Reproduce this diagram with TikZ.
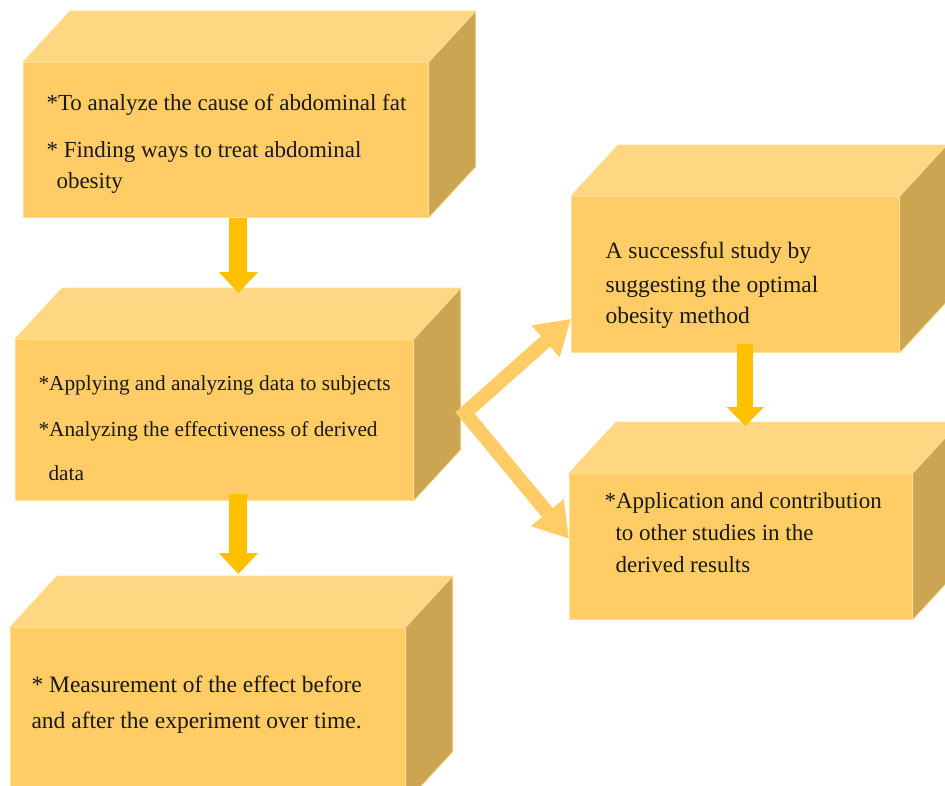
\documentclass[tikz,border=0pt]{standalone}
\usepackage{fontspec}
\setmainfont{Liberation Serif}
\usetikzlibrary{arrows.meta,calc}

\definecolor{boxfront}{RGB}{255,204,102}
\definecolor{boxtop}{RGB}{255,214,130}
\definecolor{boxside}{RGB}{204,165,82}
\definecolor{boxedge}{RGB}{255,222,150}
\definecolor{flowgold}{RGB}{255,192,0}

\tikzset{
  front/.style={fill=boxfront,draw=boxedge,line width=0.8pt,anchor=north west,inner sep=0pt},
  topface/.style={fill=boxtop,draw=boxedge,line width=0.8pt},
  sideface/.style={fill=boxside,draw=boxedge,line width=0.8pt},
  boxtext/.style={anchor=base west,align=left,text=black!90,font=\fontsize{#1}{31}\selectfont},
  boxtext/.default=22,
  vflow/.style={draw=flowgold,line width=18pt,-{Triangle[width=38pt,length=21pt]}},
  dflow/.style={draw=boxfront,line width=14pt,line join=miter,
    {Triangle[width=40pt,length=34pt]}-{Triangle[width=40pt,length=34pt]}}
}

% top and right faces of a box, from its front node
\newcommand{\cubesides}[1]{%
  \draw[topface] (#1.north west) -- ++(47,-51) -- ($(#1.north east)+(47,-51)$) -- (#1.north east) -- cycle;
  \draw[sideface] (#1.north east) -- ++(47,-51) -- ($(#1.south east)+(47,-51)$) -- (#1.south east) -- cycle;
}

\begin{document}
\begin{tikzpicture}[x=1pt,y=-1pt]
  \clip (0,0) rectangle (945,785);

  % boxes
  \node[front,minimum width=405pt,minimum height=155pt] (b1) at (23,62) {};
  \cubesides{b1}
  \node[front,minimum width=398pt,minimum height=161pt] (b2) at (15,339) {};
  \cubesides{b2}
  \node[front,minimum width=395pt,minimum height=175pt] (b3) at (10,627) {};
  \cubesides{b3}
  \node[front,minimum width=328pt,minimum height=156pt] (b4) at (571,196) {};
  \cubesides{b4}
  \node[front,minimum width=343pt,minimum height=146pt] (b5) at (569,473) {};
  \cubesides{b5}

  % texts (placed at the baseline of their last line)
  \node[boxtext=23] (t1) at (43,188) {*To analyze the cause of abdominal fat\\[16pt]* Finding ways to treat abdominal\\\hspace*{10pt}obesity};
  \node[boxtext=21.3] (t2) at (35,480) {*Applying and analyzing data to subjects\\[15pt]*Analyzing the effectiveness of derived\\[13pt]\hspace*{10pt}data};
  \node[boxtext=23.5] (t3) at (28,728) {* Measurement of the effect before\\[5pt]and after the experiment over time.};
  \node[boxtext=23.5] (t4) at (602,323) {A successful study by\\[3pt]suggesting the optimal\\obesity method};
  \node[boxtext=23] (t5) at (601,572) {*Application and contribution\\[1pt]\hspace*{11pt}to other studies in the\\[1pt]\hspace*{11pt}derived results};

  % arrows
  \draw[vflow] ([xshift=12.5pt]b1.south) -- ([xshift=24pt,yshift=46pt]b2.north);
  \draw[vflow] ([xshift=24pt,yshift=7pt]b2.south) -- ([xshift=30.5pt,yshift=53pt]b3.north);
  \draw[vflow,line width=16pt,-{Triangle[width=36pt,length=19pt]}] ([xshift=10pt,yshift=9pt]b4.south) -- ([xshift=4.5pt,yshift=47pt]b5.north);

  \coordinate (fork) at (465,413);
  \draw[dflow] ([yshift=34pt]b4.south west) -- (fork) -- ([yshift=81pt]b5.south west);
\end{tikzpicture}
\end{document}
